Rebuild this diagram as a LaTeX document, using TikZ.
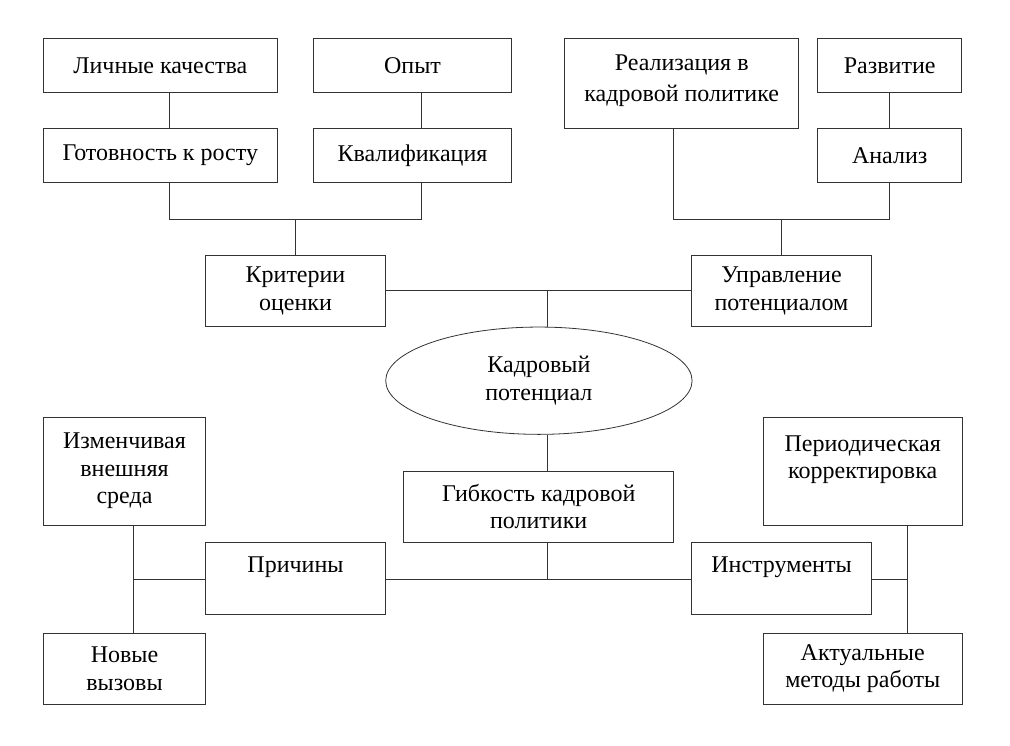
\documentclass[tikz,border=0pt]{standalone}
\usepackage{fontspec}
\setmainfont{Liberation Serif}
\usetikzlibrary{shapes.geometric,calc}
\begin{document}
\begin{tikzpicture}[x=1pt,y=-1pt,
  box/.style={draw=black!80,line width=0.85pt,rectangle,inner sep=0pt,align=center,
    font=\fontsize{24}{27.5}\selectfont},
  txt/.style={inner sep=0pt,align=center,font=\fontsize{24}{27.5}\selectfont},
  ell/.style={draw=black!80,line width=0.8pt,ellipse,inner sep=0pt,align=center,
    font=\fontsize{24}{27.5}\selectfont},
  conn/.style={draw=black!80,line width=0.85pt}]
\useasboundingbox[fill=white] (0,0) rectangle (1010,745);
% helper x positions
\coordinate (xa) at (169.3,0);
\coordinate (xb) at (421.7,0);
\coordinate (xc) at (295.3,0);
\coordinate (xd) at (673.7,0);
\coordinate (xe) at (889.3,0);
\coordinate (xf) at (781.7,0);
\coordinate (xg) at (547.7,0);
\coordinate (xh) at (133.7,0);
\coordinate (xi) at (907.3,0);
\coordinate (ya) at (0,219);
\coordinate (yb) at (0,290.7);
\coordinate (yc) at (0,579);
% top left
\node[box,minimum width=234,minimum height=54] (lq) at (160.3,65.7) {Личные качества};
\node[box,minimum width=198.4,minimum height=54] (op) at (412.5,65.7) {Опыт};
\node[box,minimum width=234,minimum height=54] (gr) at (160.3,155.7) {Готовность к росту};
\node[box,minimum width=198.4,minimum height=54] (kv) at (412.5,155.7) {Квалификация};
\node[box,minimum width=180.4,minimum height=71.7] (kr) at (295.5,290.85) {Критерии\\оценки};
% top right
\node[box,minimum width=234,minimum height=90] (re) at (681.7,83.3) {};
\node[txt] (ret) at (681.7,80.5) {Реализация в\\[3.5pt]кадровой политике};
\node[box,minimum width=144,minimum height=54] (rz) at (889.7,65.7) {Развитие};
\node[box,minimum width=144,minimum height=54] (an) at (889.7,155.7) {Анализ};
\node[box,minimum width=180.4,minimum height=71.7] (up) at (781.5,290.85) {Управление\\потенциалом};
% center
\node[ell,minimum width=306.4,minimum height=107.3] (kp) at (538.9,380.7) {Кадровый\\потенциал};
\node[box,minimum width=270,minimum height=71.3] (gb) at (538.7,506.7) {Гибкость кадровой\\политики};
% bottom
\node[box,minimum width=180.4,minimum height=71.6] (pr) at (295.5,578.5) {Причины\\\mbox{}};
\node[box,minimum width=180.4,minimum height=71.6] (in) at (781.5,578.5) {Инструменты\\\mbox{}};
\node[box,minimum width=162.4,minimum height=108] (iz) at (124.5,471) {Изменчивая\\внешняя\\среда};
\node[box,minimum width=162.4,minimum height=71.3] (nv) at (124.5,668.7) {Новые\\вызовы};
\node[box,minimum width=198.7,minimum height=108] (pe) at (862.7,471) {Периодическая\\корректировка\\\mbox{}};
\node[box,minimum width=198.7,minimum height=71.3] (ak) at (862.7,668.7) {Актуальные\\методы работы};
% connectors top left
\draw[conn] (lq.south -| xa) -- (gr.north -| xa);
\draw[conn] (op.south -| xb) -- (kv.north -| xb);
\draw[conn] (gr.south -| xa) -- (xa |- ya) -- (xb |- ya) -- (kv.south -| xb);
\draw[conn] (xc |- ya) -- (kr.north -| xc);
% connectors top right
\draw[conn] (rz.south -| xe) -- (an.north -| xe);
\draw[conn] (re.south -| xd) -- (xd |- ya) -- (xe |- ya) -- (an.south -| xe);
\draw[conn] (xf |- ya) -- (up.north -| xf);
% middle
\draw[conn] (kr.east) -- (up.west);
\draw[conn] (xg |- yb) -- (kp.north -| xg);
\draw[conn] (kp.south -| xg) -- (gb.north -| xg);
\draw[conn] (gb.south -| xg) -- (xg |- yc);
\draw[conn] (pr.east |- yc) -- (in.west |- yc);
% bottom left
\draw[conn] (iz.south -| xh) -- (nv.north -| xh);
\draw[conn] (xh |- yc) -- (pr.west |- yc);
% bottom right
\draw[conn] (pe.south -| xi) -- (ak.north -| xi);
\draw[conn] (in.east |- yc) -- (xi |- yc);
\end{tikzpicture}
\end{document}
